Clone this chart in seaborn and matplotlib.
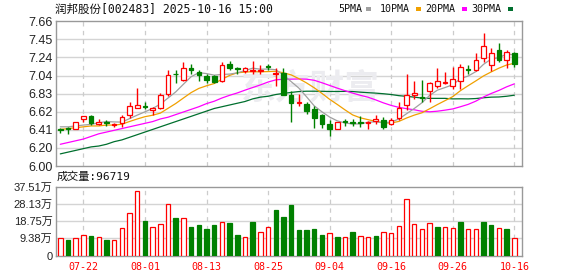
import numpy as np
import matplotlib
matplotlib.use("Agg")
import matplotlib.pyplot as plt
from matplotlib.patches import Rectangle
import seaborn as sns

# ---------------- data ----------------
dates = ["07-17", "07-18", "07-21", "07-22", "07-23", "07-24", "07-25", "07-28", "07-29", "07-30",
         "07-31", "08-01", "08-04", "08-05", "08-06", "08-07", "08-08", "08-11", "08-12", "08-13",
         "08-14", "08-15", "08-18", "08-19", "08-20", "08-21", "08-22", "08-25", "08-26", "08-27",
         "08-28", "08-29", "09-01", "09-02", "09-03", "09-04", "09-05", "09-08", "09-09", "09-10",
         "09-11", "09-12", "09-15", "09-16", "09-17", "09-18", "09-19", "09-22", "09-23", "09-24",
         "09-25", "09-26", "09-29", "09-30", "10-09", "10-10", "10-13", "10-14", "10-15", "10-16"]

open_p = [6.42, 6.44, 6.43, 6.54, 6.57, 6.48, 6.50, 6.47, 6.49, 6.58,
          6.67, 6.69, 6.64, 6.67, 6.83, 7.06, 6.99, 7.12, 7.08, 7.03,
          7.03, 6.97, 7.17, 7.12, 7.09, 7.09, 7.09, 7.15, 7.06, 7.07,
          6.81, 6.72, 6.71, 6.65, 6.59, 6.48, 6.42, 6.52, 6.50, 6.51,
          6.49, 6.52, 6.53, 6.48, 6.55, 6.70, 6.81, 6.79, 6.86, 6.92,
          6.95, 6.92, 6.98, 7.11, 7.10, 7.24, 7.16, 7.33, 7.21, 7.30]
high_p = [6.44, 6.45, 6.50, 6.57, 6.58, 6.54, 6.53, 6.49, 6.59, 6.74,
          6.90, 6.74, 6.68, 6.84, 7.10, 7.10, 7.19, 7.17, 7.10, 7.06,
          7.04, 7.19, 7.20, 7.13, 7.13, 7.20, 7.16, 7.17, 7.12, 7.12,
          6.86, 6.83, 6.73, 6.69, 6.60, 6.53, 6.51, 6.54, 6.54, 6.57,
          6.52, 6.59, 6.56, 6.55, 6.73, 7.05, 6.97, 6.99, 6.96, 7.12,
          7.08, 7.13, 7.17, 7.16, 7.29, 7.53, 7.35, 7.41, 7.33, 7.31]
low_p = [6.38, 6.37, 6.42, 6.50, 6.47, 6.47, 6.46, 6.45, 6.45, 6.55,
         6.66, 6.65, 6.58, 6.65, 6.80, 6.95, 6.97, 7.06, 6.98, 6.95,
         6.95, 6.96, 7.10, 7.06, 7.07, 7.06, 7.06, 7.10, 6.92, 6.81,
         6.50, 6.69, 6.60, 6.44, 6.44, 6.35, 6.42, 6.46, 6.46, 6.45,
         6.43, 6.48, 6.43, 6.47, 6.53, 6.64, 6.77, 6.73, 6.74, 6.89,
         6.94, 6.88, 6.88, 7.06, 7.09, 7.19, 7.09, 7.19, 7.12, 7.13]
close_p = [6.41, 6.42, 6.50, 6.57, 6.49, 6.50, 6.49, 6.48, 6.56, 6.69,
           6.70, 6.68, 6.67, 6.81, 7.04, 7.05, 7.12, 7.10, 7.04, 6.99,
           6.96, 7.16, 7.12, 7.11, 7.12, 7.10, 7.10, 7.13, 7.07, 6.82,
           6.72, 6.73, 6.63, 6.55, 6.48, 6.42, 6.51, 6.51, 6.49, 6.49,
           6.51, 6.54, 6.45, 6.53, 6.67, 6.81, 6.84, 6.78, 6.95, 6.97,
           6.96, 7.00, 7.13, 7.10, 7.22, 7.38, 7.30, 7.21, 7.31, 7.17]

ma5 = [6.45, 6.45, 6.46, 6.47, 6.478, 6.496, 6.51, 6.506, 6.504, 6.544,
       6.584, 6.622, 6.66, 6.71, 6.78, 6.85, 6.938, 7.024, 7.07, 7.06,
       7.042, 7.05, 7.054, 7.068, 7.094, 7.122, 7.11, 7.112, 7.104, 7.044,
       6.968, 6.894, 6.794, 6.69, 6.622, 6.562, 6.518, 6.494, 6.482, 6.484,
       6.502, 6.508, 6.496, 6.504, 6.54, 6.60, 6.66, 6.726, 6.81, 6.87,
       6.90, 6.932, 7.002, 7.032, 7.082, 7.166, 7.226, 7.242, 7.284, 7.274]
ma10 = [6.42, 6.43, 6.44, 6.45, 6.46, 6.46, 6.47, 6.47, 6.48, 6.511,
        6.54, 6.566, 6.583, 6.607, 6.662, 6.717, 6.78, 6.842, 6.89, 6.92,
        6.946, 6.994, 7.039, 7.069, 7.077, 7.082, 7.08, 7.083, 7.086, 7.069,
        7.045, 7.002, 6.953, 6.897, 6.833, 6.765, 6.706, 6.644, 6.586, 6.553,
        6.532, 6.513, 6.495, 6.493, 6.512, 6.551, 6.584, 6.611, 6.657, 6.705,
        6.75, 6.796, 6.864, 6.921, 6.976, 7.033, 7.079, 7.122, 7.158, 7.178]
ma20 = [6.25, 6.27, 6.29, 6.31, 6.34, 6.37, 6.39, 6.41, 6.43, 6.45,
        6.47, 6.49, 6.51, 6.54, 6.56, 6.59, 6.62, 6.65, 6.68, 6.716,
        6.743, 6.78, 6.811, 6.838, 6.87, 6.90, 6.93, 6.963, 6.988, 6.995,
        6.996, 6.998, 6.996, 6.983, 6.955, 6.924, 6.893, 6.864, 6.836, 6.811,
        6.789, 6.758, 6.724, 6.695, 6.673, 6.658, 6.645, 6.628, 6.622, 6.629,
        6.641, 6.655, 6.68, 6.707, 6.744, 6.792, 6.832, 6.867, 6.908, 6.942]
ma30 = [6.14, 6.16, 6.18, 6.20, 6.22, 6.23, 6.25, 6.28, 6.30, 6.33,
        6.36, 6.39, 6.42, 6.45, 6.48, 6.51, 6.54, 6.57, 6.60, 6.63,
        6.66, 6.68, 6.70, 6.72, 6.74, 6.77, 6.79, 6.80, 6.82, 6.833,
        6.844, 6.854, 6.858, 6.858, 6.857, 6.855, 6.855, 6.856, 6.854, 6.847,
        6.841, 6.836, 6.829, 6.82, 6.807, 6.799, 6.79, 6.779, 6.776, 6.776,
        6.776, 6.77, 6.771, 6.77, 6.774, 6.783, 6.79, 6.792, 6.80, 6.812]

volume_wan = [9.7, 8.2, 9.7, 11.3, 10.8, 10.2, 8.2, 8.6, 15.2, 23.0,
              34.9, 18.6, 15.7, 17.0, 27.8, 20.3, 20.6, 15.3, 16.4, 14.2,
              16.4, 18.1, 17.5, 11.0, 10.2, 18.1, 13.0, 15.7, 24.6, 20.8,
              27.4, 13.7, 13.7, 14.2, 11.0, 12.0, 10.2, 10.2, 12.6, 10.4,
              10.2, 10.8, 12.6, 12.0, 16.2, 31.0, 17.3, 14.6, 17.9, 15.7,
              15.3, 15.2, 18.4, 14.2, 14.2, 18.4, 16.4, 14.8, 14.6, 9.67]
volume_dir = list("rgrrgrgrrrrgrrrgrggggrggrgrrgggggggrgrgrrgrrrrrrrgrrgrrggrg")

price_ticks = [6.00, 6.2075, 6.415, 6.6225, 6.83, 7.0375, 7.245, 7.4525, 7.66]
price_tick_labels = ["6.00", "6.20", "6.41", "6.62", "6.83", "7.04", "7.24", "7.45", "7.66"]
vol_ticks = [0, 9.38, 18.75, 28.13, 37.51]
vol_tick_labels = ["0", "9.38万", "18.75万", "28.13万", "37.51万"]
x_tick_labels = ["07-22", "08-01", "08-13", "08-25", "09-04", "09-16", "09-26", "10-16"]

title_text = "润邦股份[002483] 2025-10-16 15:00"
volume_title = "成交量:96719"
ma_names = ["5PMA", "10PMA", "20PMA", "30PMA"]
watermark = "东方财富"

# ---------------- style ----------------
sns.set_style("white")
plt.rcParams['font.family'] = ['Liberation Sans', 'Noto Sans CJK SC']

RED = "#ff0000"
GREEN = "#008000"
MA_COLORS = ["#a0a0a0", "#f0a000", "#ff00ff", "#006f2e"]
GRID = "#d4d4d4"
SPINE = "#999999"
MONO = ['DejaVu Sans Mono', 'Noto Sans CJK SC']

W, H = 578, 276
fig = plt.figure(figsize=(W / 100, H / 100), dpi=100)


def rect(l, t, r, b):
    return [l / W, 1 - b / H, (r - l) / W, (b - t) / H]


axp = fig.add_axes(rect(56, 21.2, 522.3, 166.1))
axv = fig.add_axes(rect(56, 186.6, 522.3, 255.5))

idx = np.arange(len(dates))
o = np.array(open_p); h = np.array(high_p); l = np.array(low_p); c = np.array(close_p)
up = c >= o
x_pos = [dates.index(t) for t in x_tick_labels]

for ax in (axp, axv):
    ax.set_xlim(-0.56, 60.04)
    for s in ax.spines.values():
        s.set_color(SPINE)
        s.set_linewidth(1.0)
    for xp in x_pos:
        ax.axvline(xp, color="#cccccc", lw=0.9, ls=(0, (3.5, 3.5)), zorder=0.5)
    ax.tick_params(length=0, colors="#222222")

# price panel
axp.set_ylim(6.00, 7.66)
axp.set_yticks(price_ticks)
axp.set_yticklabels(price_tick_labels, fontsize=9)
axp.tick_params(axis='y', pad=2.5)
axp.set_xticks(x_pos)
axp.set_xticklabels([])
for t in price_ticks[1:-1]:
    axp.axhline(t, color=GRID, lw=1.0, zorder=0.4)

axp.text(310 / W, 1 - 88 / H, watermark, transform=fig.transFigure, ha="center",
         va="center", fontsize=25, fontweight="bold", color="#ececf0",
         family=['Noto Sans CJK SC'], zorder=0.6)

for ma, col in zip([ma30, ma20, ma10, ma5], MA_COLORS[::-1]):
    sns.lineplot(x=idx, y=ma, ax=axp, color=col, lw=0.9, legend=False, zorder=2)

cols = np.where(up, RED, GREEN)
axp.vlines(idx, l, h, colors=cols, lw=1.0, zorder=3)
body_bottom = np.minimum(o, c)
body_h = np.maximum(np.abs(c - o), 0.004)
axp.bar(idx, body_h, bottom=body_bottom, width=0.6,
        color=np.where(up, "white", GREEN), edgecolor=cols, linewidth=0.9, zorder=4)

# volume panel
axv.set_ylim(0, 37.51)
axv.set_yticks(vol_ticks)
axv.set_yticklabels(vol_tick_labels, fontsize=8)
axv.tick_params(axis='y', pad=2.5)
for t in vol_ticks[1:-1]:
    axv.axhline(t, color=GRID, lw=1.0, zorder=0.4)
vcols = [RED if d == "r" else GREEN for d in volume_dir]
vface = ["white" if d == "r" else GREEN for d in volume_dir]
axv.bar(idx, volume_wan, width=0.58, color=vface, edgecolor=vcols, linewidth=0.9, zorder=3)
axv.set_xticks(x_pos)
axv.set_xticklabels(x_tick_labels, fontsize=7.2, color=RED, family=MONO)
axv.tick_params(axis='x', pad=5)

# texts
fig.text(55 / W, 1 - 9 / H, title_text, ha="left", va="center", fontsize=8.3,
         family=MONO, color="#111111")
fig.text(57 / W, 1 - 176.5 / H, volume_title, ha="left", va="center", fontsize=8,
         family=MONO, color="#111111")

leg_x = [338.3, 380, 425, 471]
sq_x = [365.7, 415.7, 462.3, 508.3]
for name, col, tx, sx in zip(ma_names, MA_COLORS, leg_x, sq_x):
    fig.text(tx / W, 1 - 9.2 / H, name, ha="left", va="center", fontsize=7.2,
             family=MONO, color="#111111")
    fig.patches.append(Rectangle((sx / W, 1 - 10.5 / H), 5 / W, 4 / H,
                                 transform=fig.transFigure, facecolor=col,
                                 edgecolor="none", figure=fig))

fig.savefig("out.png", dpi=100)
